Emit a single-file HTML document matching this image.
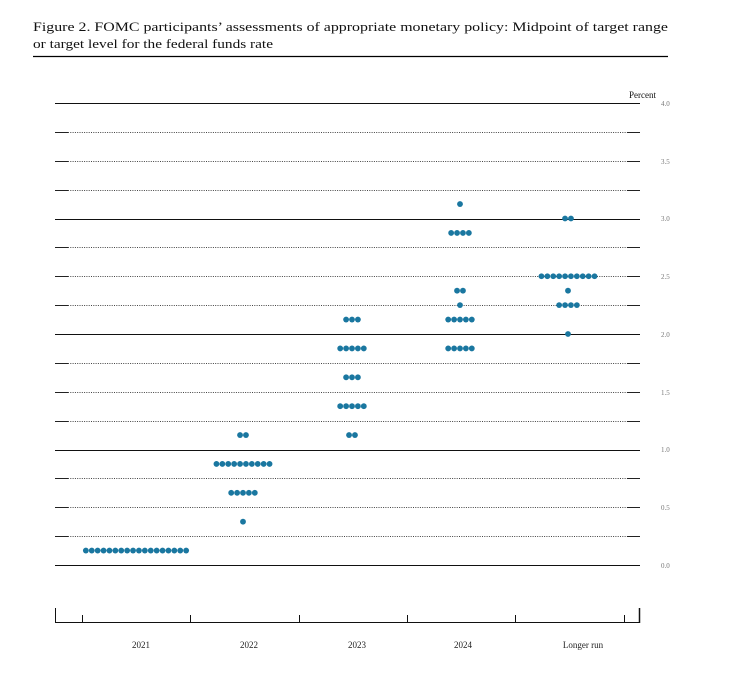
<!DOCTYPE html>
<html><head><meta charset="utf-8"><style>
body{margin:0;background:#fff;}
svg{display:block}
</style></head><body>
<svg id="s" width="729" height="690" xmlns="http://www.w3.org/2000/svg">
<text x="33" y="31" font-family="Liberation Serif, serif" font-size="12.8" fill="#111" textLength="635" lengthAdjust="spacingAndGlyphs">Figure 2.  FOMC participants’ assessments of appropriate monetary policy:  Midpoint of target range</text>
<text x="33" y="48" font-family="Liberation Serif, serif" font-size="12.8" fill="#111" textLength="240" lengthAdjust="spacingAndGlyphs">or target level for the federal funds rate</text>
<line x1="33" y1="56.5" x2="668" y2="56.5" stroke="#000" stroke-width="1.3"/>
<text x="656" y="98" text-anchor="end" font-family="Liberation Serif, serif" font-size="9" fill="#111">Percent</text>
<g id="grid"></g>
<g id="dots" fill="#1a77a0"></g>
<g stroke="#111" stroke-width="1">
<line x1="55" y1="622.5" x2="640" y2="622.5"/>
<line x1="55.5" y1="608" x2="55.5" y2="623"/>
<line x1="639.5" y1="608" x2="639.5" y2="623" stroke-width="1.5"/>
<line x1="82.5" y1="615" x2="82.5" y2="622"/>
<line x1="190.5" y1="615" x2="190.5" y2="622"/>
<line x1="299.5" y1="615" x2="299.5" y2="622"/>
<line x1="407.5" y1="615" x2="407.5" y2="622"/>
<line x1="515.5" y1="615" x2="515.5" y2="622"/>
<line x1="624.5" y1="615" x2="624.5" y2="622"/>
</g>
<g font-family="Liberation Serif, serif" font-size="9" fill="#222" text-anchor="middle">
<text x="141" y="648">2021</text>
<text x="249" y="648">2022</text>
<text x="357" y="648">2023</text>
<text x="463" y="648">2024</text>
<text x="583" y="648">Longer run</text>
</g>
<g font-family="Liberation Serif, serif" font-size="7" fill="#777">
<text x="661" y="106">4.0</text>
<text x="661" y="164">3.5</text>
<text x="661" y="221">3.0</text>
<text x="661" y="279">2.5</text>
<text x="661" y="337">2.0</text>
<text x="661" y="395">1.5</text>
<text x="661" y="452">1.0</text>
<text x="661" y="510">0.5</text>
<text x="661" y="568">0.0</text>
</g>
</svg>
<script>
var NS="http://www.w3.org/2000/svg";
function y(v){return 565-v*115.5;}
var g=document.getElementById("grid");
function el(p,t,a){var e=document.createElementNS(NS,t);for(var k in a)e.setAttribute(k,a[k]);p.appendChild(e);}
for(var i=0;i<=16;i++){var v=i*0.25,yy=Math.round(y(v))+0.5;
 if(i%4==0){el(g,"line",{x1:55,x2:640,y1:yy,y2:yy,stroke:"#111","stroke-width":1});}
 else{el(g,"line",{x1:68,x2:627,y1:yy,y2:yy,stroke:"#444","stroke-width":0.9,"stroke-dasharray":"1 1.3"});
 el(g,"line",{x1:55,x2:68,y1:yy,y2:yy,stroke:"#222","stroke-width":1});
 el(g,"line",{x1:627,x2:640,y1:yy,y2:yy,stroke:"#222","stroke-width":1});}}
var d=document.getElementById("dots");
var data=[[136,[[0.125,18]]],[243,[[1.125,2],[0.875,10],[0.625,5],[0.375,1]]],
[352,[[2.125,3],[1.875,5],[1.625,3],[1.375,5],[1.125,2]]],
[460,[[3.125,1],[2.875,4],[2.375,2],[2.25,1],[2.125,5],[1.875,5]]],
[568,[[3.0,2],[2.5,10],[2.375,1],[2.25,4],[2.0,1]]]];
data.forEach(function(c){c[1].forEach(function(r){var n=r[1],sp=5.9;
 for(var j=0;j<n;j++){el(d,"circle",{cx:c[0]+(j-(n-1)/2)*sp,cy:y(r[0]),r:2.9});}});});
</script>
</body></html>
